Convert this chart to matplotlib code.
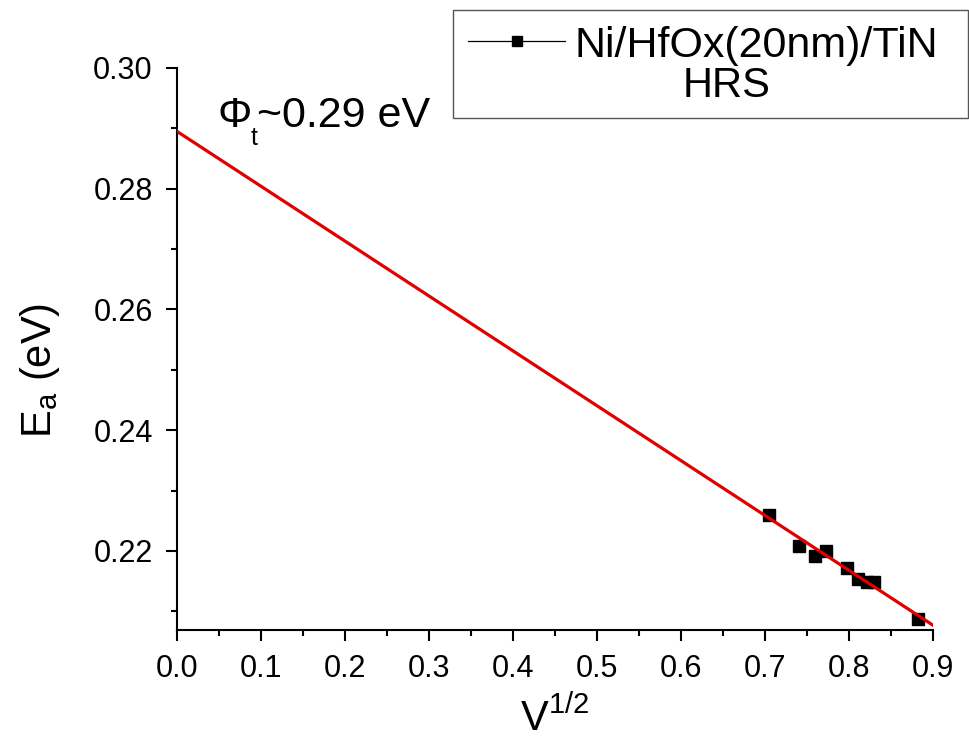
import matplotlib
matplotlib.use("Agg")
import matplotlib.pyplot as plt
from matplotlib.lines import Line2D
from matplotlib.patches import Rectangle
from matplotlib.ticker import MultipleLocator, FormatStrFormatter

plt.rcParams['font.family'] = ['Liberation Sans', 'DejaVu Sans']
plt.rcParams['mathtext.fontset'] = 'custom'
plt.rcParams['mathtext.rm'] = 'Liberation Sans'
plt.rcParams['mathtext.it'] = 'Liberation Sans'
plt.rcParams['mathtext.bf'] = 'Liberation Sans:bold'

# Measured activation energies vs square root of bias
sqrt_v = [0.705, 0.740, 0.760, 0.773, 0.798, 0.811, 0.822, 0.830, 0.882]
e_a = [0.2260, 0.2208, 0.2192, 0.2200, 0.2171, 0.2153, 0.2148, 0.2148, 0.2088]

# Linear fit: E_a = phi_t + slope * V^(1/2)
phi_t = 0.2895
slope = -0.0909
fit_x = [0.0, 0.9]

series_label = "Ni/HfOx(20nm)/TiN"
state_label = "HRS"

W, H = 969.0, 740.0
fig = plt.figure(figsize=(W / 100, H / 100), dpi=100)
ax = fig.add_axes([177 / W, 1 - 630 / H, 756 / W, 562 / H])

ax.plot(sqrt_v, e_a, linestyle='none', marker='s', markersize=8.5,
        color='black', zorder=2)
ax.plot(fit_x, [phi_t + slope * x for x in fit_x], color='#e00000',
        linewidth=2.3, zorder=3)

ax.set_xlim(0.0, 0.9)
ax.set_ylim(0.2069, 0.30)
ax.xaxis.set_major_locator(MultipleLocator(0.1))
ax.xaxis.set_minor_locator(MultipleLocator(0.05))
ax.yaxis.set_major_locator(MultipleLocator(0.02))
ax.yaxis.set_minor_locator(MultipleLocator(0.01))
ax.xaxis.set_major_formatter(FormatStrFormatter('%.1f'))
ax.yaxis.set_major_formatter(FormatStrFormatter('%.2f'))

for side in ('top', 'right'):
    ax.spines[side].set_visible(False)
for side in ('left', 'bottom'):
    ax.spines[side].set_linewidth(1.5)

ax.tick_params(which='major', direction='out', length=8, width=1.5,
               labelsize=22)
ax.tick_params(axis='x', which='major', pad=9)
ax.tick_params(axis='y', which='major', pad=9.5)
ax.tick_params(which='minor', direction='out', length=4.5, width=1.5)

ax.set_xlabel(r'V$^{1/2}$', fontsize=30, labelpad=10)
ax.set_ylabel(r'E$_{\mathrm{a}}$ (eV)', fontsize=30)
ax.yaxis.set_label_coords((62 - 177) / 756, (630 - 370) / 562)

# Trap barrier annotation: Phi with subscript t, then the value
fig.text(218 / W, 1 - 127 / H, '\u03a6', fontsize=31, ha='left',
         va='baseline')
fig.text(251 / W, 1 - 145 / H, 't', fontsize=18, ha='left', va='baseline')
fig.text(257 / W, 1 - 127 / H, '~0.29 eV', fontsize=31, ha='left',
         va='baseline')

# Legend box
fig.add_artist(Rectangle((453 / W, 1 - 118 / H), (968 - 453) / W, 108 / H,
                         transform=fig.transFigure, facecolor='white',
                         edgecolor='#555555', linewidth=1.0, zorder=5))
fig.add_artist(Line2D([468 / W, 565 / W], [1 - 41 / H, 1 - 41 / H],
                      transform=fig.transFigure, color='black',
                      linewidth=0.9, zorder=6))
fig.add_artist(Line2D([517 / W], [1 - 41 / H], transform=fig.transFigure,
                      marker='s', markersize=7, color='black',
                      linestyle='none', zorder=6))
fig.text(575 / W, 1 - 57 / H, series_label, fontsize=31, ha='left',
         va='baseline', zorder=6)
fig.text(727 / W, 1 - 97 / H, state_label, fontsize=30, ha='center',
         va='baseline', zorder=6)

fig.savefig('out.png', dpi=100)
